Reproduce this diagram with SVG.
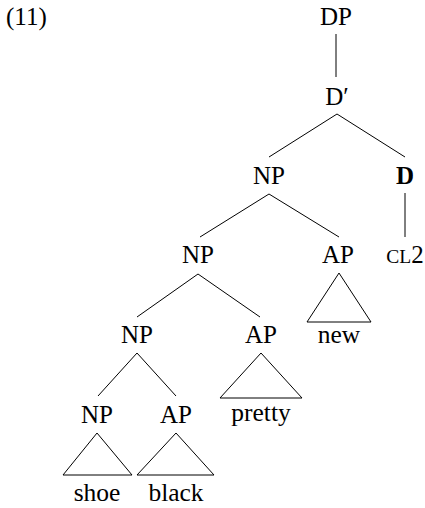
<svg xmlns="http://www.w3.org/2000/svg" width="425" height="508" viewBox="0 0 425 508">
<style>
text{font-family:'Liberation Serif','DejaVu Serif',serif;font-size:25px;fill:#000;text-anchor:middle}
.w{font-size:25.5px}
.l{stroke:#000;stroke-width:1;fill:none}
</style>
<rect width="425" height="508" fill="#fff"/>
<text x="6" y="25" style="text-anchor:start">(11)</text>
<g id="connectors" class="l">
<line x1="336" y1="34" x2="336" y2="77"/>
<line x1="337" y1="114" x2="269" y2="157"/>
<line x1="337" y1="114" x2="405" y2="157"/>
<line x1="405" y1="193" x2="405" y2="237"/>
<line x1="269" y1="194" x2="200" y2="237"/>
<line x1="269" y1="194" x2="339" y2="237"/>
<line x1="198" y1="274" x2="137" y2="317"/>
<line x1="198" y1="274" x2="260" y2="317"/>
<line x1="137" y1="353" x2="98" y2="396"/>
<line x1="137" y1="353" x2="176" y2="396"/>
<polygon points="339,273 307,322 371,322"/>
<polygon points="261,353 220,398 302,398"/>
<polygon points="97,433 63,475 132,475"/>
<polygon points="176,433 137,475 214,475"/>
</g>
<g id="dp"><text x="336" y="25">DP</text></g>
<g id="dbar"><text x="337" y="105">D′</text></g>
<g id="np1"><text x="269" y="184">NP</text></g>
<g id="d"><text x="405" y="184" font-weight="bold">D</text></g>
<g id="cl2"><text x="405" y="263"><tspan font-size="19.5">CL</tspan>2</text></g>
<g id="np2"><text x="198" y="263">NP</text></g>
<g id="ap1"><text x="338" y="263">AP</text><text class="w" x="339" y="343">new</text></g>
<g id="np3"><text x="137" y="343">NP</text></g>
<g id="ap2"><text x="261" y="343">AP</text><text class="w" x="261" y="421">pretty</text></g>
<g id="np4"><text x="97" y="423">NP</text><text class="w" x="97" y="501">shoe</text></g>
<g id="ap3"><text x="176" y="423">AP</text><text class="w" x="176" y="501">black</text></g>
</svg>
